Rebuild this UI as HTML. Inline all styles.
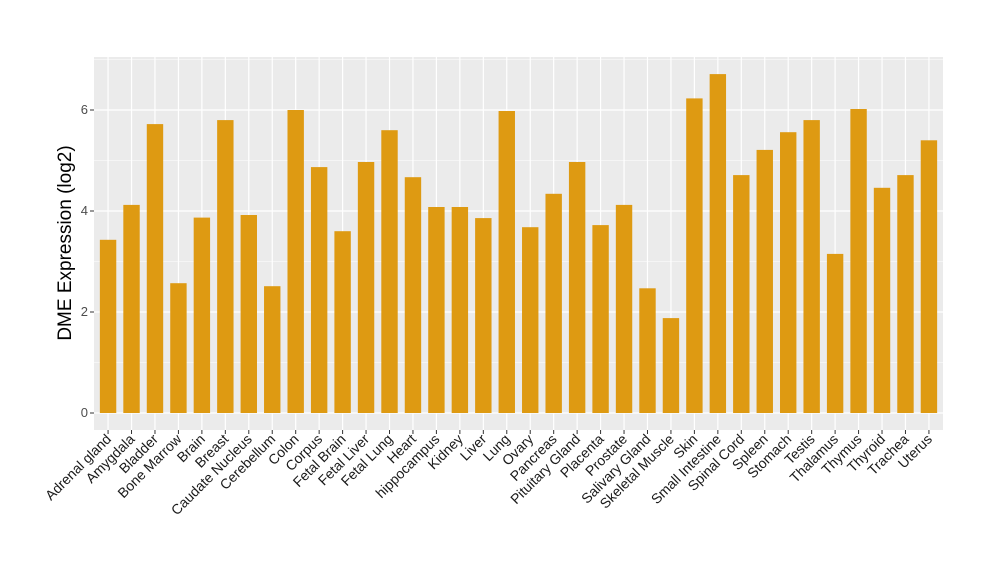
<!DOCTYPE html>
<html><head><style>body{margin:0;background:#fff}</style></head><body>
<svg width="1000" height="580" xmlns="http://www.w3.org/2000/svg" font-family="Liberation Sans, sans-serif">
<rect width="1000" height="580" fill="#fff"/>
<rect x="94" y="57" width="849" height="373" fill="#EBEBEB"/>
<g stroke="#fff" stroke-width="0.6">
<line x1="94" x2="943" y1="362.5" y2="362.5"/><line x1="94" x2="943" y1="261.5" y2="261.5"/><line x1="94" x2="943" y1="160.5" y2="160.5"/><line x1="94" x2="943" y1="59.5" y2="59.5"/>
</g>
<g stroke="#fff" stroke-width="1.2">
<line x1="94" x2="943" y1="413" y2="413"/><line x1="94" x2="943" y1="312" y2="312"/><line x1="94" x2="943" y1="211" y2="211"/><line x1="94" x2="943" y1="110" y2="110"/>
<path d="M108.07 57V430M131.52 57V430M154.98 57V430M178.43 57V430M201.88 57V430M225.34 57V430M248.79 57V430M272.24 57V430M295.69 57V430M319.15 57V430M342.6 57V430M366.05 57V430M389.51 57V430M412.96 57V430M436.41 57V430M459.87 57V430M483.32 57V430M506.77 57V430M530.23 57V430M553.68 57V430M577.13 57V430M600.58 57V430M624.04 57V430M647.49 57V430M670.94 57V430M694.4 57V430M717.85 57V430M741.3 57V430M764.76 57V430M788.21 57V430M811.66 57V430M835.11 57V430M858.57 57V430M882.02 57V430M905.47 57V430M928.93 57V430"/>
</g>
<g fill="#DE9A12">
<rect x="99.87" y="239.8" width="16.4" height="173.2"/>
<rect x="123.32" y="204.9" width="16.4" height="208.1"/>
<rect x="146.78" y="124.1" width="16.4" height="288.9"/>
<rect x="170.23" y="283.2" width="16.4" height="129.8"/>
<rect x="193.68" y="217.6" width="16.4" height="195.4"/>
<rect x="217.14" y="120.1" width="16.4" height="292.9"/>
<rect x="240.59" y="215" width="16.4" height="198"/>
<rect x="264.04" y="286.2" width="16.4" height="126.8"/>
<rect x="287.49" y="110" width="16.4" height="303"/>
<rect x="310.95" y="167.1" width="16.4" height="245.9"/>
<rect x="334.4" y="231.2" width="16.4" height="181.8"/>
<rect x="357.85" y="162" width="16.4" height="251"/>
<rect x="381.31" y="130.2" width="16.4" height="282.8"/>
<rect x="404.76" y="177.2" width="16.4" height="235.8"/>
<rect x="428.21" y="207" width="16.4" height="206"/>
<rect x="451.67" y="207" width="16.4" height="206"/>
<rect x="475.12" y="218.1" width="16.4" height="194.9"/>
<rect x="498.57" y="111" width="16.4" height="302"/>
<rect x="522.03" y="227.2" width="16.4" height="185.8"/>
<rect x="545.48" y="193.8" width="16.4" height="219.2"/>
<rect x="568.93" y="162" width="16.4" height="251"/>
<rect x="592.38" y="225.1" width="16.4" height="187.9"/>
<rect x="615.84" y="204.9" width="16.4" height="208.1"/>
<rect x="639.29" y="288.3" width="16.4" height="124.7"/>
<rect x="662.74" y="318.1" width="16.4" height="94.9"/>
<rect x="686.2" y="98.4" width="16.4" height="314.6"/>
<rect x="709.65" y="74.1" width="16.4" height="338.9"/>
<rect x="733.1" y="175.1" width="16.4" height="237.9"/>
<rect x="756.56" y="149.9" width="16.4" height="263.1"/>
<rect x="780.01" y="132.2" width="16.4" height="280.8"/>
<rect x="803.46" y="120.1" width="16.4" height="292.9"/>
<rect x="826.91" y="253.9" width="16.4" height="159.1"/>
<rect x="850.37" y="109" width="16.4" height="304"/>
<rect x="873.82" y="187.8" width="16.4" height="225.2"/>
<rect x="897.27" y="175.1" width="16.4" height="237.9"/>
<rect x="920.73" y="140.3" width="16.4" height="272.7"/>
</g>
<g font-size="13" fill="#4D4D4D" text-anchor="end">
<text x="88" y="417">0</text><text x="88" y="316">2</text><text x="88" y="215">4</text><text x="88" y="114">6</text>
</g>
<g stroke="#333" stroke-width="1"><line x1="90" x2="94" y1="413" y2="413"/><line x1="90" x2="94" y1="312" y2="312"/><line x1="90" x2="94" y1="211" y2="211"/><line x1="90" x2="94" y1="110" y2="110"/>
<path d="M108.07 430v4M131.52 430v4M154.98 430v4M178.43 430v4M201.88 430v4M225.34 430v4M248.79 430v4M272.24 430v4M295.69 430v4M319.15 430v4M342.6 430v4M366.05 430v4M389.51 430v4M412.96 430v4M436.41 430v4M459.87 430v4M483.32 430v4M506.77 430v4M530.23 430v4M553.68 430v4M577.13 430v4M600.58 430v4M624.04 430v4M647.49 430v4M670.94 430v4M694.4 430v4M717.85 430v4M741.3 430v4M764.76 430v4M788.21 430v4M811.66 430v4M835.11 430v4M858.57 430v4M882.02 430v4M905.47 430v4M928.93 430v4"/></g>
<g font-size="14" fill="#1a1a1a" text-anchor="end">
<text transform="translate(112.07,440) rotate(-45)">Adrenal gland</text>
<text transform="translate(135.52,440) rotate(-45)">Amygdala</text>
<text transform="translate(158.98,440) rotate(-45)">Bladder</text>
<text transform="translate(182.43,440) rotate(-45)">Bone Marrow</text>
<text transform="translate(205.88,440) rotate(-45)">Brain</text>
<text transform="translate(229.34,440) rotate(-45)">Breast</text>
<text transform="translate(252.79,440) rotate(-45)">Caudate Nucleus</text>
<text transform="translate(276.24,440) rotate(-45)">Cerebellum</text>
<text transform="translate(299.69,440) rotate(-45)">Colon</text>
<text transform="translate(323.15,440) rotate(-45)">Corpus</text>
<text transform="translate(346.6,440) rotate(-45)">Fetal Brain</text>
<text transform="translate(370.05,440) rotate(-45)">Fetal Liver</text>
<text transform="translate(393.51,440) rotate(-45)">Fetal Lung</text>
<text transform="translate(416.96,440) rotate(-45)">Heart</text>
<text transform="translate(440.41,440) rotate(-45)">hippocampus</text>
<text transform="translate(463.87,440) rotate(-45)">Kidney</text>
<text transform="translate(487.32,440) rotate(-45)">Liver</text>
<text transform="translate(510.77,440) rotate(-45)">Lung</text>
<text transform="translate(534.23,440) rotate(-45)">Ovary</text>
<text transform="translate(557.68,440) rotate(-45)">Pancreas</text>
<text transform="translate(581.13,440) rotate(-45)">Pituitary Gland</text>
<text transform="translate(604.58,440) rotate(-45)">Placenta</text>
<text transform="translate(628.04,440) rotate(-45)">Prostate</text>
<text transform="translate(651.49,440) rotate(-45)">Salivary Gland</text>
<text transform="translate(674.94,440) rotate(-45)">Skeletal Muscle</text>
<text transform="translate(698.4,440) rotate(-45)">Skin</text>
<text transform="translate(721.85,440) rotate(-45)">Small Intestine</text>
<text transform="translate(745.3,440) rotate(-45)">Spinal Cord</text>
<text transform="translate(768.76,440) rotate(-45)">Spleen</text>
<text transform="translate(792.21,440) rotate(-45)">Stomach</text>
<text transform="translate(815.66,440) rotate(-45)">Testis</text>
<text transform="translate(839.11,440) rotate(-45)">Thalamus</text>
<text transform="translate(862.57,440) rotate(-45)">Thymus</text>
<text transform="translate(886.02,440) rotate(-45)">Thyroid</text>
<text transform="translate(909.47,440) rotate(-45)">Trachea</text>
<text transform="translate(932.93,440) rotate(-45)">Uterus</text>
</g>
<text transform="translate(71,243) rotate(-90)" font-size="19" text-anchor="middle" fill="#000">DME Expression (log2)</text>
</svg>
</body></html>
